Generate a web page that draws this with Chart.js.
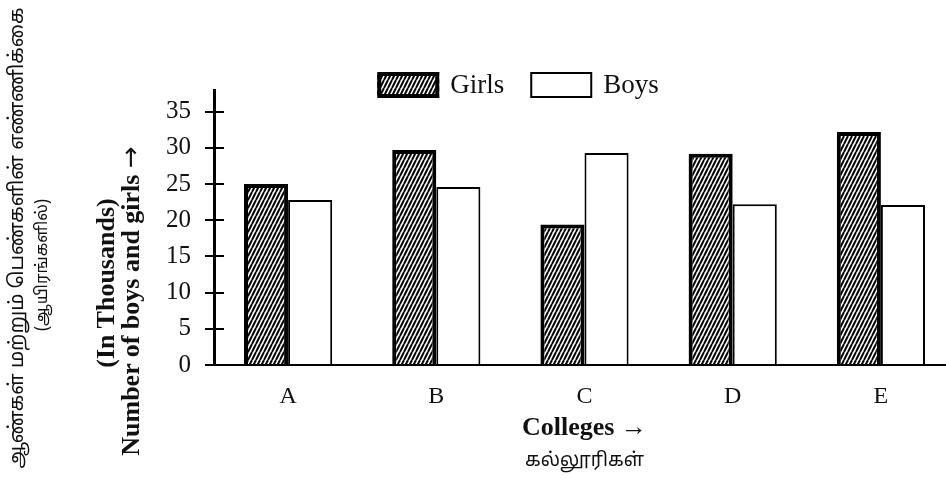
<!DOCTYPE html>
<html><head><meta charset="utf-8">
<script src="https://cdn.jsdelivr.net/npm/chart.js@4.4.1/dist/chart.umd.min.js"></script>
<style>
html,body{margin:0;padding:0;background:#fff;overflow:hidden;width:946px;height:485px}
#wrap{position:relative;width:955px;height:485px}
.vt{position:absolute;white-space:nowrap;transform:translate(-50%,-50%) rotate(-90deg);color:#111;line-height:1}
.serifb{font-family:"Liberation Serif","Times New Roman",serif;font-weight:bold}
.arr{font-family:"DejaVu Sans",sans-serif;font-weight:normal}
.tam{font-family:"Noto Sans Tamil","Lohit Tamil","Noto Sans",sans-serif}
</style></head><body>
<div id="wrap"><canvas id="c"></canvas>
<div class="vt tam" style="left:18px;top:238px;font-size:20px">ஆண்கள் மற்றும் பெண்களின் எண்ணிக்கை</div>
<div class="vt tam" style="left:43px;top:265px;font-size:16.5px">(ஆயிரங்களில்)</div>
<div class="vt serifb" style="left:106px;top:283px;font-size:26px">(In Thousands)</div>
<div class="vt serifb" style="left:130px;top:301px;font-size:26px">Number of boys and girls <span class="arr">→</span></div>
</div>
<script>
const categories = ['A', 'B', 'C', 'D', 'E'];
const girls = [25, 29.7, 19.4, 29.2, 32.2];
const boys = [22.8, 24.6, 29.3, 22.2, 22.1];
const yTickValues = [0, 5, 10, 15, 20, 25, 30, 35];
const seriesNames = ['Girls', 'Boys'];
const xTitle = 'Colleges →';
const xTitleTamil = 'கல்லூரிகள்';

const canvas = document.getElementById('c');
const ctx0 = canvas.getContext('2d');
function hatch() {
  const w = 4, h = 8;
  const t = document.createElement('canvas');
  t.width = w; t.height = h;
  const g = t.getContext('2d');
  g.fillStyle = '#fff'; g.fillRect(0, 0, w, h);
  g.strokeStyle = '#000'; g.lineWidth = 2;
  g.beginPath();
  g.moveTo(0, h); g.lineTo(w, 0);
  g.moveTo(-w, h); g.lineTo(0, 0);
  g.moveTo(w, h); g.lineTo(2 * w, 0);
  g.stroke();
  return ctx0.createPattern(t, 'repeat');
}
const hatchPattern = hatch();

const SERIF = '"Liberation Serif","Times New Roman",serif';

const innerTicks = {
  id: 'innerTicks',
  afterDatasetsDraw(chart) {
    const y = chart.scales.y, ctx = chart.ctx, left = chart.chartArea.left;
    ctx.save();
    ctx.strokeStyle = '#000'; ctx.lineWidth = 2;
    y.ticks.forEach(t => {
      if (t.value === 0) return;
      const py = Math.round(y.getPixelForValue(t.value));
      ctx.beginPath(); ctx.moveTo(left, py); ctx.lineTo(left + 10, py); ctx.stroke();
    });
    ctx.restore();
  }
};

const legendPlugin = {
  id: 'customLegend',
  afterDraw(chart) {
    const ctx = chart.ctx;
    const boxW = 62, boxH = 26, gap = 11, itemGap = 26;
    const cy = 85;
    ctx.save();
    ctx.font = '27px ' + SERIF;
    ctx.textBaseline = 'middle';
    const ds = chart.data.datasets;
    let total = 0;
    const widths = ds.map(d => ctx.measureText(d.label).width);
    widths.forEach((w, i) => { total += boxW + gap + w + (i < ds.length - 1 ? itemGap : 0); });
    let x = 518 - total / 2;
    ds.forEach((d, i) => {
      ctx.fillStyle = d.backgroundColor;
      ctx.fillRect(x, cy - boxH / 2, boxW, boxH);
      ctx.lineWidth = d.borderWidth;
      ctx.strokeStyle = '#000';
      ctx.strokeRect(x + d.borderWidth / 2, cy - boxH / 2 + d.borderWidth / 2, boxW - d.borderWidth, boxH - d.borderWidth);
      ctx.fillStyle = '#111';
      ctx.fillText(d.label, x + boxW + gap, cy + 1);
      x += boxW + gap + widths[i] + itemGap;
    });
    ctx.restore();
  }
};

new Chart(canvas, {
  type: 'bar',
  data: {
    labels: categories,
    datasets: [
      { label: seriesNames[0], data: girls, backgroundColor: hatchPattern, borderColor: '#000', borderWidth: 4 },
      { label: seriesNames[1], data: boys, backgroundColor: '#fff', borderColor: '#000', borderWidth: 2 }
    ]
  },
  options: {
    responsive: true,
    maintainAspectRatio: false,
    animation: false,
    devicePixelRatio: 1,
    events: [],
    layout: { padding: { top: 90, left: 150, right: 0, bottom: 5 } },
    datasets: { bar: { categoryPercentage: 0.595, barPercentage: 1 } },
    plugins: { legend: { display: false }, tooltip: { enabled: false } },
    scales: {
      x: {
        grid: { display: false },
        border: { display: true, color: '#000', width: 2 },
        ticks: { color: '#111', font: { family: SERIF, size: 24 }, padding: 9 },
        title: { display: true, text: xTitle, color: '#111', font: { family: SERIF, size: 26, weight: 'bold' }, padding: { top: 0, bottom: 0 } },
        afterFit(s) { s.height = 79; }
      },
      x2: {
        type: 'category',
        position: 'bottom',
        labels: categories,
        grid: { display: false },
        border: { display: false },
        ticks: { display: false },
        title: { display: true, text: xTitleTamil, color: '#111', font: { family: '"Noto Sans Tamil","Lohit Tamil","Noto Sans",sans-serif', size: 19 }, padding: { top: 0, bottom: 6 } },
        afterFit(s) { s.height = 36; }
      },
      y: {
        min: 0, max: 38,
        grid: { display: true, drawOnChartArea: false, drawTicks: true, tickLength: 9, color: '#000', lineWidth: 2 },
        border: { display: true, color: '#000', width: 3 },
        ticks: { includeBounds: false, color: '#111', font: { family: SERIF, size: 25 }, padding: 14 },
        afterBuildTicks(s) { s.ticks = yTickValues.map(v => ({ value: v })); },
        afterFit(s) { s.width = 64; }
      }
    }
  },
  plugins: [innerTicks, legendPlugin]
});
</script>
</body></html>
